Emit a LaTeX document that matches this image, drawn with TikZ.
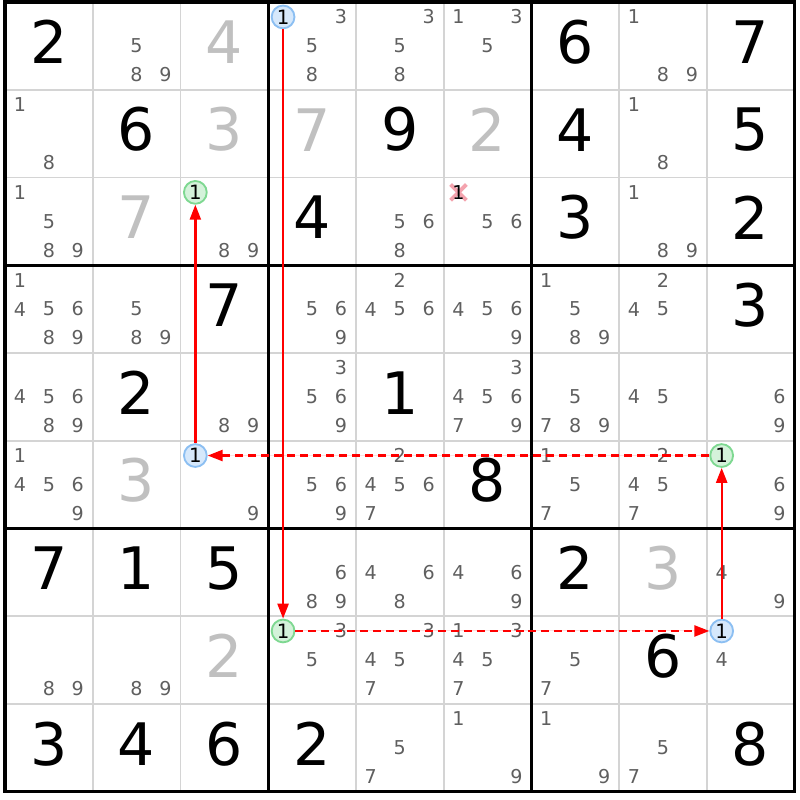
\documentclass[tikz,border=0pt]{standalone}
\usepackage{fontspec}
\setmainfont{DejaVu Sans}
\usetikzlibrary{arrows.meta}

\definecolor{candgray}{HTML}{5F5F5F}
\definecolor{solvedgray}{HTML}{C0C0C0}
\definecolor{gridgray}{HTML}{D4D4D4}
\definecolor{bluefill}{HTML}{D6E8FB}
\definecolor{bluering}{HTML}{8CBFF2}
\definecolor{greenfill}{HTML}{D4F2DA}
\definecolor{greenring}{HTML}{7ED891}
\definecolor{crosspink}{HTML}{F4A3AE}
\definecolor{linkred}{HTML}{FF0000}

\tikzset{
  given/.style={font=\fontsize{19}{19}\selectfont, text=black, inner sep=0pt},
  solved/.style={given, text=solvedgray},
  cand/.style={font=\fontsize{6.2}{6.2}\selectfont, text=candgray, inner sep=0pt},
  onfirst/.style={circle, inner sep=0pt, minimum size=2.6mm, line width=0.6pt,
    font=\fontsize{6.4}{6.4}\selectfont, text=black},
  onblue/.style={onfirst, draw=bluering, fill=bluefill},
  ongreen/.style={onfirst, draw=greenring, fill=greenfill},
  strong/.style={->, draw=linkred, fill=linkred, line width=0.75pt},
  weak/.style={strong, dash pattern=on 2.6pt off 1.6pt},
}

\begin{document}
\begin{tikzpicture}[>={Triangle[length=1.7mm,width=1.25mm]}]
    \useasboundingbox (-0.057,0.023) rectangle (9.063,-9.097);

    % cell lines
    \foreach \i in {1,2,4,5,7,8} {
        \draw[gridgray, line width=0.6pt] (\i,0) -- (\i,-9);
        \draw[gridgray, line width=0.6pt] (0,-\i) -- (9,-\i);
    }
    % box lines
    \foreach \i in {3,6} {
        \draw[line width=1pt] (\i,0) -- (\i,-9);
        \draw[line width=1pt] (0,-\i) -- (9,-\i);
    }
    \draw[line width=1pt] (0,0) rectangle (9,-9);

    % givens
    \foreach \r/\c/\d in {0/0/2, 0/6/6, 0/8/7, 1/1/6, 1/4/9, 1/6/4, 1/8/5,
        2/3/4, 2/6/3, 2/8/2, 3/2/7, 3/8/3, 4/1/2, 4/4/1, 5/5/8,
        6/0/7, 6/1/1, 6/2/5, 6/6/2, 7/7/6,
        8/0/3, 8/1/4, 8/2/6, 8/3/2, 8/8/8}
        \node[given] (g\r\c) at (\c+0.5,-\r-0.455) {\d};
    % placed digits
    \foreach \r/\c/\d in {0/2/4, 1/2/3, 1/3/7, 1/5/2, 2/1/7, 5/1/3, 6/7/3, 7/2/2}
        \node[solved] (s\r\c) at (\c+0.5,-\r-0.455) {\d};

    % candidates
    \foreach \r/\c/\ks in {0/1/{5,8,9}, 0/3/{3,5,8}, 0/4/{3,5,8}, 0/5/{1,3,5}, 0/7/{1,8,9},
        1/0/{1,8}, 1/7/{1,8},
        2/0/{1,5,8,9}, 2/2/{8,9}, 2/4/{5,6,8}, 2/5/{5,6}, 2/7/{1,8,9},
        3/0/{1,4,5,6,8,9}, 3/1/{5,8,9}, 3/3/{5,6,9}, 3/4/{2,4,5,6}, 3/5/{4,5,6,9},
        3/6/{1,5,8,9}, 3/7/{2,4,5},
        4/0/{4,5,6,8,9}, 4/2/{8,9}, 4/3/{3,5,6,9}, 4/5/{3,4,5,6,7,9}, 4/6/{5,7,8,9},
        4/7/{4,5}, 4/8/{6,9},
        5/0/{1,4,5,6,9}, 5/2/{9}, 5/3/{5,6,9}, 5/4/{2,4,5,6,7}, 5/6/{1,5,7},
        5/7/{2,4,5,7}, 5/8/{6,9},
        6/3/{6,8,9}, 6/4/{4,6,8}, 6/5/{4,6,9}, 6/8/{4,9},
        7/0/{8,9}, 7/1/{8,9}, 7/3/{3,5}, 7/4/{3,4,5,7}, 7/5/{1,3,4,5,7}, 7/6/{5,7}, 7/8/{4},
        8/4/{5,7}, 8/5/{1,9}, 8/6/{1,9}, 8/7/{5,7}} {
        \foreach \k in \ks {
            \pgfmathsetmacro{\dx}{(mod(\k-1,3)-1)*0.33}
            \pgfmathsetmacro{\dy}{(floor((\k-1)/3)-1)*0.33}
            \node[cand] (k\r\c\k) at (\c+0.5+\dx,-\r-0.5-\dy) {\k};
        }
    }

    % the 1s of the chain
    \node[onblue]  (r0c3) at (3.17,-0.17) {1};
    \node[ongreen] (r7c3) at (3.17,-7.17) {1};
    \node[onblue]  (r7c8) at (8.17,-7.17) {1};
    \node[ongreen] (r5c8) at (8.17,-5.17) {1};
    \node[onblue]  (r5c2) at (2.17,-5.17) {1};
    \node[ongreen] (r2c2) at (2.17,-2.17) {1};

    % eliminated 1
    \draw[crosspink, line width=1.3pt] (5.08,-2.08) -- (5.26,-2.26) (5.08,-2.26) -- (5.26,-2.08);
    \node[cand, text=black] (x25) at (5.17,-2.17) {1};

    \draw[strong] (r0c3) -- (r7c3);
    \draw[weak] (r7c3) -- (r7c8);
    \draw[strong] (r7c8) -- (r5c8);
    \draw[weak] (r5c8) -- (r5c2);
    \draw[strong] (r5c2) -- (r2c2);
\end{tikzpicture}
\end{document}
